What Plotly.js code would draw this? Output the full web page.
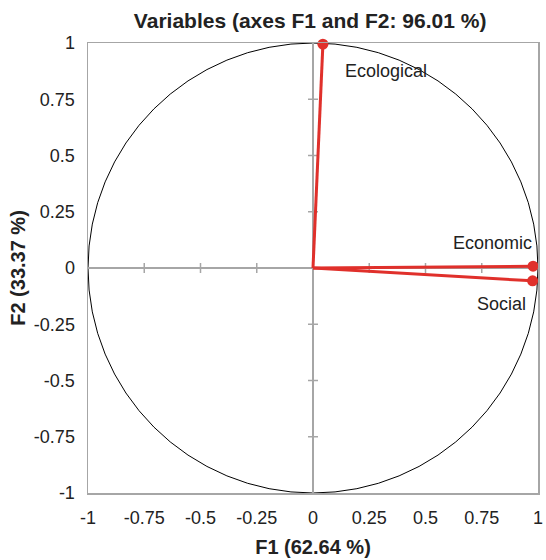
<!DOCTYPE html>
<html><head><meta charset="utf-8">
<script src="https://cdn.plot.ly/plotly-3.0.1.min.js"></script>
<style>body{margin:0;padding:0;background:#fff}#chart{width:546px;height:560px}</style>
</head><body><div id="chart"></div>
<script>
const varNames = ["Ecological", "Economic", "Social"];
const f1 = [0.044, 0.978, 0.976];
const f2 = [0.995, 0.008, -0.057];
const tickVals = [-1, -0.75, -0.5, -0.25, 0, 0.25, 0.5, 0.75, 1];
const tickText = ["-1", "-0.75", "-0.5", "-0.25", "0", "0.25", "0.5", "0.75", "1"];
const innerTicks = [-0.75, -0.5, -0.25, 0.25, 0.5, 0.75];

const lx = [], ly = [];
for (let i = 0; i < varNames.length; i++) { lx.push(0, f1[i], null); ly.push(0, f2[i], null); }

const FONT = 'Liberation Sans, Arial, Helvetica, sans-serif';
const red = '#e0302b';
const gray = '#a6a6a6';
const traces = [
  {x: lx, y: ly, mode: 'lines', line: {color: red, width: 3}, hoverinfo: 'skip', showlegend: false, cliponaxis: false},
  {x: f1, y: f2, mode: 'markers', marker: {color: red, size: 11}, text: varNames, showlegend: false, cliponaxis: false}
];

const shapes = [
  {type: 'circle', xref: 'x', yref: 'y', x0: -1, y0: -1, x1: 1, y1: 1, line: {color: '#000', width: 1}, layer: 'below'}
];
innerTicks.forEach(v => {
  shapes.push({type: 'line', xref: 'x', yref: 'y', ysizemode: 'pixel', yanchor: 0, x0: v, x1: v, y0: -5, y1: 5, line: {color: gray, width: 1.5}, layer: 'below'});
  shapes.push({type: 'line', xref: 'x', yref: 'y', xsizemode: 'pixel', xanchor: 0, y0: v, y1: v, x0: -5, x1: 5, line: {color: gray, width: 1.5}, layer: 'below'});
});

const labelPos = [
  {xanchor: 'left', xshift: 20, yshift: -27},
  {xanchor: 'right', xshift: 1, yshift: 23},
  {xanchor: 'right', xshift: -5, yshift: -23}
];
const annotations = varNames.map((n, i) => ({
  x: f1[i], y: f2[i], xref: 'x', yref: 'y', text: n, showarrow: false,
  xanchor: labelPos[i].xanchor, yanchor: 'middle', xshift: labelPos[i].xshift, yshift: labelPos[i].yshift,
  font: {family: FONT, size: 18, color: '#222'}
}));

const axisCommon = {
  range: [-1, 1], tickvals: tickVals, ticktext: tickText,
  showgrid: false, zeroline: true, zerolinecolor: gray, zerolinewidth: 1.5,
  showline: true, mirror: true, linecolor: gray, linewidth: 1.5,
  ticks: 'outside', ticklen: 8, tickcolor: 'rgba(0,0,0,0)',
  tickfont: {family: FONT, size: 18, color: '#222'}
};

const layout = {
  width: 546, height: 560,
  margin: {l: 88, r: 8, t: 43, b: 67},
  paper_bgcolor: '#fff', plot_bgcolor: '#fff',
  title: {text: '<b>Variables (axes F1 and F2: 96.01 %)</b>', x: 0.568, xanchor: 'center', y: 0.964, yanchor: 'middle',
    font: {family: FONT, size: 21, color: '#222'}},
  xaxis: Object.assign({}, axisCommon, {title: {text: '<b>F1 (62.64 %)</b>', standoff: 13,
    font: {family: FONT, size: 20, color: '#222'}}}),
  yaxis: Object.assign({}, axisCommon, {title: {text: '<b>F2 (33.37 %)</b>', standoff: 3,
    font: {family: FONT, size: 20, color: '#222'}}}),
  shapes: shapes, annotations: annotations, showlegend: false
};

Plotly.newPlot('chart', traces, layout, {displayModeBar: false, staticPlot: true});
</script></body></html>
